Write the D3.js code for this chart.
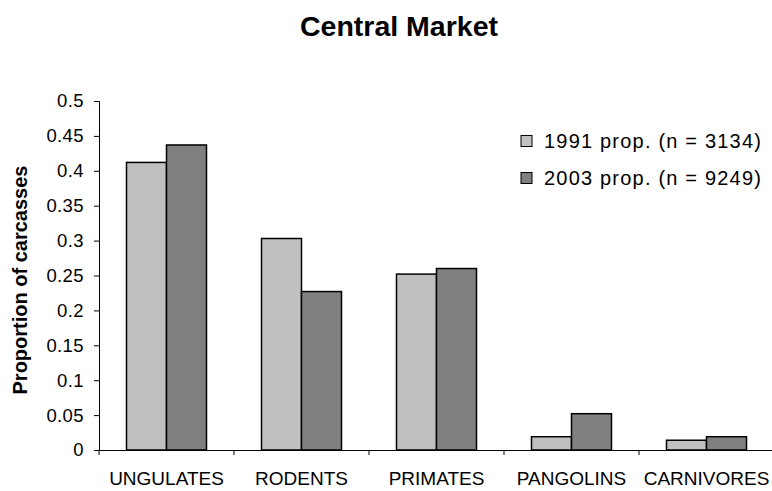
<!DOCTYPE html>
<html><head><meta charset="utf-8">
<script src="https://cdn.jsdelivr.net/npm/d3@7"></script>
<style>body{margin:0;background:#fff}svg{display:block;font-family:"Liberation Sans",Arial,sans-serif}</style>
</head><body><svg id="c" width="772" height="491"></svg>
<script>
const categories = ["UNGULATES","RODENTS","PRIMATES","PANGOLINS","CARNIVORES"];
const seriesNames = ["1991 prop. (n = 3134)","2003 prop. (n = 9249)"];
const values1991 = [0.412, 0.303, 0.252, 0.019, 0.014];
const values2003 = [0.437, 0.227, 0.260, 0.052, 0.019];
const yTicks = [0,0.05,0.1,0.15,0.2,0.25,0.3,0.35,0.4,0.45,0.5];
const colors = ["#c0c0c0","#808080"];

(function(){
const svg = d3.select("#c");
const mL = 99, mR = 774, mT = 101, mB = 450;
const x = d3.scaleBand().domain(categories).range([mL, mR]).paddingInner(0).paddingOuter(0);
const bw = x.bandwidth();
const y = d3.scaleLinear().domain([0,0.5]).range([mB, mT]);

svg.append("text").attr("x",399).attr("y",36).attr("text-anchor","middle")
  .attr("font-size",28.5).attr("font-weight","bold").text("Central Market");

const series = [values1991, values2003];
series.forEach((vals, si) => {
  svg.append("g").selectAll("rect").data(categories).join("rect")
    .attr("x", (d)=> x(d) + bw/2 - 40 + si*40)
    .attr("y", (d,i)=> y(vals[i]))
    .attr("width", 40)
    .attr("height", (d,i)=> y(0)-y(vals[i]))
    .attr("fill", colors[si]).attr("stroke","#000").attr("stroke-width",1.5);
});

const ya = svg.append("g").attr("transform",`translate(${mL},0)`)
  .call(d3.axisLeft(y).tickValues(yTicks).tickFormat(d=>String(+d.toFixed(2))).tickSizeOuter(0).tickSize(5).tickPadding(10));
ya.select(".domain").attr("stroke","#000");
ya.selectAll("text").attr("font-size",18.5).attr("letter-spacing","0.4").attr("font-family","Liberation Sans, Arial, sans-serif").attr("fill","#000");

const xa = svg.append("g").attr("transform",`translate(0,${mB})`)
  .call(d3.axisBottom(x).tickSize(0).tickPadding(22));
xa.select(".domain").attr("stroke","#000");
xa.selectAll("text").attr("font-size",19).attr("font-family","Liberation Sans, Arial, sans-serif").attr("fill","#000");
xa.selectAll(".sep").data(categories).join("line").attr("class","sep")
  .attr("x1",d=>x(d)).attr("x2",d=>x(d)).attr("y1",0).attr("y2",5).attr("stroke","#000");

svg.append("text").attr("transform","translate(27,280) rotate(-90)").attr("text-anchor","middle")
  .attr("font-size",20).attr("font-weight","bold").text("Proportion of carcasses");

const lg = svg.append("g");
seriesNames.forEach((n,i)=>{
  const cy = 141 + i*37;
  lg.append("rect").attr("x",521).attr("y",cy-5.5).attr("width",11).attr("height",11)
    .attr("fill",colors[i]).attr("stroke","#000").attr("stroke-width",1);
  lg.append("text").attr("x",544).attr("y",cy+7).attr("font-size",20).attr("letter-spacing","1.2").text(n);
});
})();
</script></body></html>
